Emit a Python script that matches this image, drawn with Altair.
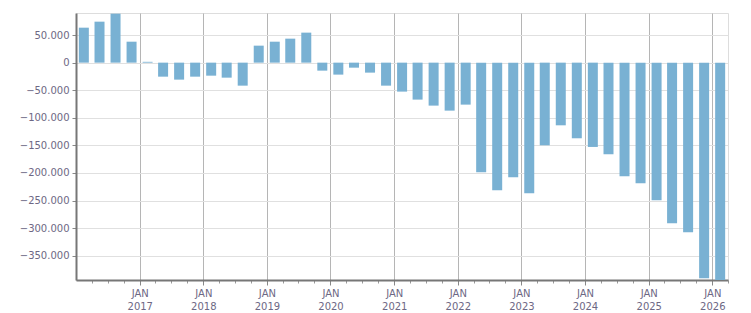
import altair as alt
import pandas as pd

quarters = [
    "2016Q1", "2016Q2", "2016Q3", "2016Q4",
    "2017Q1", "2017Q2", "2017Q3", "2017Q4",
    "2018Q1", "2018Q2", "2018Q3", "2018Q4",
    "2019Q1", "2019Q2", "2019Q3", "2019Q4",
    "2020Q1", "2020Q2", "2020Q3", "2020Q4",
    "2021Q1", "2021Q2", "2021Q3", "2021Q4",
    "2022Q1", "2022Q2", "2022Q3", "2022Q4",
    "2023Q1", "2023Q2", "2023Q3", "2023Q4",
    "2024Q1", "2024Q2", "2024Q3", "2024Q4",
    "2025Q1", "2025Q2", "2025Q3", "2025Q4",
    "2026Q1",
]
values = [
    63400, 74300, 88800, 38000,
    1500, -25400, -30800, -25400,
    -23600, -27200, -41700, 30800,
    38000, 43500, 54400, -14500,
    -21700, -9100, -18100, -41700,
    -52500, -67000, -77900, -87000,
    -76100, -198800, -231400, -207800,
    -236800, -149800, -113600, -137100,
    -152800, -166100, -206000, -218700,
    -249500, -291200, -307500, -390800,
    -394000,
]
y_ticks = [50000, 0, -50000, -100000, -150000, -200000, -250000, -300000, -350000]

# mid-quarter dates
mid_month = {"Q1": "02-15", "Q2": "05-15", "Q3": "08-15", "Q4": "11-15"}
dates = [f"{q[:4]}-{mid_month[q[4:]]}" for q in quarters]
df = pd.DataFrame({"date": dates, "value": values})

tick_values = []
for yr in range(2016, 2027):
    for m in (1, 4, 7, 10):
        if (2016, 1) < (yr, m) <= (2026, 4):
            tick_values.append(alt.DateTime(year=yr, month=m, date=1))

label_color = "#6d6884"
font = "DejaVu Sans"

is_year = "month(datum.value) == 0"

chart = alt.Chart(df).mark_bar(width=10, color="#79b1d3", clip=True).encode(
    x=alt.X(
        "date:T",
        scale=alt.Scale(
            domain=[alt.DateTime(year=2016, month=1, date=1),
                    alt.DateTime(year=2026, month=4, date=1)],
            nice=False,
            padding=0,
        ),
        axis=alt.Axis(
            title=None,
            values=tick_values,
            labelExpr=f"{is_year} ? ['JAN', timeFormat(datum.value, '%Y')] : ''",
            labelColor=label_color,
            labelFont=font,
            labelFontSize=10,
            labelLineHeight=13,
            labelPadding=3,
            labelOverlap=False,
            labelFlush=False,
            domainColor="#777777",
            domainWidth=2,
            tickColor={"condition": {"test": is_year, "value": "#888888"}, "value": "#999999"},
            tickSize={"condition": {"test": is_year, "value": 5}, "value": 3},
            grid=True,
            gridColor="#b5b5b5",
            gridOpacity={"condition": {"test": is_year, "value": 1}, "value": 0},
        ),
    ),
    y=alt.Y(
        "value:Q",
        scale=alt.Scale(domain=[-394000, 90000], nice=False, zero=False, padding=0),
        axis=alt.Axis(
            title=None,
            values=y_ticks,
            labelExpr="replace(format(datum.value, ','), ',', '.')",
            labelColor=label_color,
            labelFont=font,
            labelFontSize=10,
            labelPadding=3,
            domainColor="#777777",
            domainWidth=2,
            tickColor="#888888",
            tickSize=4,
            grid=True,
            gridColor="#e0e0e0",
        ),
    ),
).properties(
    width=652,
    height=267,
    padding={"left": 76, "top": 13, "right": 23, "bottom": 33},
    autosize=alt.AutoSizeParams(type="none"),
).configure_view(
    stroke="#dddddd",
).configure(background="white")

chart.save("out.html", embed_options={"renderer": "svg", "actions": False})
